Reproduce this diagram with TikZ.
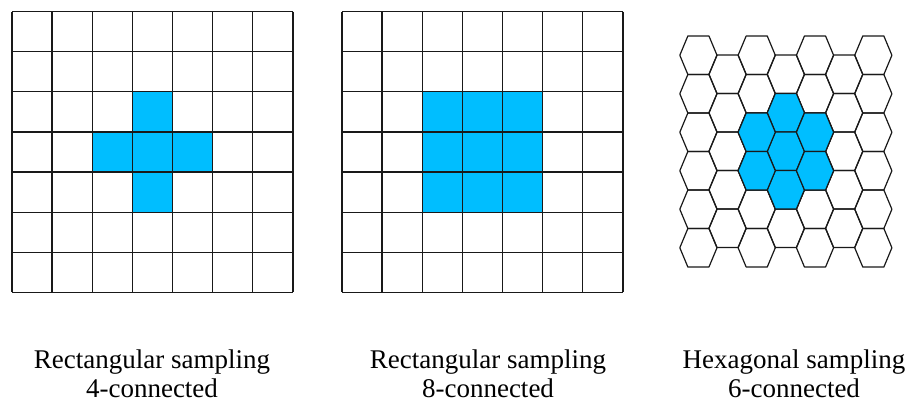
\documentclass[tikz,border=0pt]{standalone}
\usepackage{fontspec}
\setmainfont{Liberation Serif}
\definecolor{cellblue}{RGB}{0,190,255}
\definecolor{gridline}{RGB}{25,25,25}
\tikzset{
  gridlines/.style={draw=gridline, line width=1.3pt},
  cellfill/.style={fill=cellblue},
  hexcell/.pic={\path[pic actions] (-18.6,0) -- (-10.55,-19.25) -- (10.55,-19.25) -- (18.6,0) -- (10.55,19.25) -- (-10.55,19.25) -- cycle;},
  hexline/.style={draw=gridline, line width=1.2pt, line join=round},
  caption/.style={font=\fontsize{27}{29}\selectfont, align=center, anchor=base, inner sep=0pt}
}
\begin{document}
\begin{tikzpicture}[x=1pt, y=-1pt]
\useasboundingbox[fill=white] (0,0) rectangle (912,402);
% ---------- grid 1 : 4-connected ----------
\def\cs{40.14}
\begin{scope}[shift={(12,11.5)}]
  \foreach \c/\r in {3/2,2/3,3/3,4/3,3/4}
    \fill[cellfill] (\c*\cs,\r*\cs) rectangle ++(\cs,\cs);
  \foreach \k in {0,...,7} {
    \draw[gridlines] (\k*\cs,0) -- (\k*\cs,7*\cs);
    \draw[gridlines] (0,\k*\cs) -- (7*\cs,\k*\cs);
  }
\end{scope}
% ---------- grid 2 : 8-connected ----------
\begin{scope}[shift={(342,11.5)}]
  \foreach \c in {2,3,4}
    \foreach \r in {2,3,4}
      \fill[cellfill] (\c*\cs,\r*\cs) rectangle ++(\cs,\cs);
  \foreach \k in {0,...,7} {
    \draw[gridlines] (\k*\cs,0) -- (\k*\cs,7*\cs);
    \draw[gridlines] (0,\k*\cs) -- (7*\cs,\k*\cs);
  }
\end{scope}
% ---------- hexagonal grid : 6-connected ----------
\foreach \i in {0,2,4,6}
  \foreach \k in {0,...,5}
    \pic[hexline] at ({698.4+29.15*\i},{55.25+38.5*\k}) {hexcell};
\foreach \i in {1,3,5}
  \foreach \k in {0,...,4}
    \pic[hexline] at ({698.4+29.15*\i},{74.25+38.5*\k}) {hexcell};
\foreach \i/\k in {3/1,3/2,3/3}
  \pic[hexline, cellfill] at ({698.4+29.15*\i},{74.25+38.5*\k}) {hexcell};
\foreach \i/\k in {2/2,2/3,4/2,4/3}
  \pic[hexline, cellfill] at ({698.4+29.15*\i},{55.25+38.5*\k}) {hexcell};
% ---------- captions ----------
\node[caption] (cap1) at (152,397) {Rectangular sampling\\4-connected};
\node[caption] (cap2) at (488,397) {Rectangular sampling\\8-connected};
\node[caption] (cap3) at (794,397) {Hexagonal sampling\\6-connected};
\end{tikzpicture}
\end{document}
